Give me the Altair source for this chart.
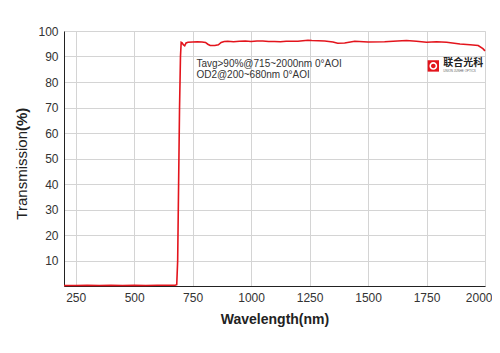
import altair as alt
import pandas as pd

# Transmission spectrum
wavelength = [200, 250, 300, 350, 400, 450, 500, 550, 600, 650, 675, 682, 686, 690, 694, 698, 701,
              705, 710, 716, 722, 730, 750, 770, 790, 805, 815, 825, 845, 860, 872, 885, 900,
              925, 950, 975, 1000, 1025, 1050, 1075, 1100, 1125, 1150, 1200, 1243, 1260, 1315,
              1350, 1370, 1400, 1443, 1500, 1571, 1607, 1664, 1707, 1750, 1793, 1836, 1893,
              1936, 1971, 1991, 2000]
transmission = [0.2, 0.2, 0.3, 0.2, 0.3, 0.2, 0.3, 0.2, 0.3, 0.3, 0.3, 0.5, 10, 40, 70, 90, 95.6,
                95.4, 94.6, 94.2, 95.3, 95.6, 95.7, 95.8, 95.7, 95.5, 94.8, 94.3, 94.3, 94.6, 95.5, 95.9, 96.0,
                95.8, 96.0, 96.1, 95.9, 96.1, 96.1, 95.9, 95.9, 95.8, 96.0, 96.0, 96.4, 96.3, 96.1,
                95.7, 95.2, 95.3, 96.0, 95.7, 95.8, 96.0, 96.3, 96.0, 95.6, 95.8, 95.6, 94.9,
                94.6, 94.3, 93.1, 92.2]

x_ticks = [250, 500, 750, 1000, 1250, 1500, 1750, 2000]
y_ticks = [10, 20, 30, 40, 50, 60, 70, 80, 90, 100]

note_lines = ["Tavg>90%@715~2000nm 0°AOI", "OD2@200~680nm 0°AOI"]
note_x = [766, 766]
note_y = [86.9, 82.7]

logo_name = "联合光科"
logo_sub = "UNION JUNHE OPTICS"

spec_df = pd.DataFrame({"wl": wavelength, "T": transmission})
note_df = pd.DataFrame({"wl": note_x, "T": note_y, "txt": note_lines})
icon_df = pd.DataFrame({"wl": [1779], "T": [86.3]})
logo_df = pd.DataFrame({"wl": [1822], "T": [87.3], "txt": [logo_name]})
sub_df = pd.DataFrame({"wl": [1822], "T": [84.6], "txt": [logo_sub]})

xs = alt.Scale(domain=[200, 2000], nice=False, zero=False)
ys = alt.Scale(domain=[0, 100], nice=False, zero=True)

x_axis = alt.Axis(values=x_ticks, format="d", grid=True, ticks=False, labelPadding=6,
                  titlePadding=9, labelFontSize=12, titleFontSize=14,
                  titleFontWeight="bold", labelFont="Liberation Sans",
                  titleFont="Liberation Sans", labelColor="#333", titleColor="#222",
                  domainColor="#222", gridColor="#d4d4d4", labelFlush=1,
                  labelFlushOffset=7, labelOverlap=False)
y_axis = alt.Axis(values=y_ticks, format="d", grid=True, ticks=False, labelPadding=6,
                  labelFontSize=12, labelFont="Liberation Sans", labelColor="#333",
                  domainColor="#222", gridColor="#d4d4d4", labelOverlap=False,
                  labelFlush=False)

X = alt.X("wl:Q", scale=xs, title="Wavelength(nm)", axis=x_axis)
Y = alt.Y("T:Q", scale=ys, title=None, axis=y_axis)

line = alt.Chart(spec_df).mark_line(color="#e3141c", strokeWidth=1.6).encode(x=X, y=Y)

notes = alt.Chart(note_df).mark_text(align="left", baseline="middle", fontSize=10,
                                     font="Liberation Sans", color="#333").encode(
    x=X, y=Y, text="txt:N")

icon = alt.Chart(icon_df).mark_point(shape="square", filled=True, color="#e3141c",
                                      size=130, opacity=1).encode(x=X, y=Y)
ring = alt.Chart(icon_df).mark_point(shape="circle", filled=False, color="white",
                                      size=38, strokeWidth=1.6, opacity=1).encode(x=X, y=Y)

logo = alt.Chart(logo_df).mark_text(align="left", baseline="middle", fontSize=10,
                                    font="Noto Sans CJK SC", fontWeight="bold",
                                    color="#222").encode(x=X, y=Y, text="txt:N")
sub = alt.Chart(sub_df).mark_text(align="left", baseline="middle", fontSize=3,
                                  font="Liberation Sans", color="#666").encode(
    x=X, y=Y, text="txt:N")

ytitle_a = alt.Chart(pd.DataFrame({"t": ["Transmission"]})).mark_text(
    angle=270, align="right", baseline="middle", fontSize=15, font="Liberation Sans",
    color="#222").encode(x=alt.value(-42), y=alt.value(100), text="t:N")
ytitle_b = alt.Chart(pd.DataFrame({"t": ["(%)"]})).mark_text(
    angle=270, align="left", baseline="middle", fontSize=15, font="Liberation Sans",
    fontWeight="bold", color="#222").encode(x=alt.value(-42), y=alt.value(100), text="t:N")

chart = alt.layer(line, notes, icon, ring, logo, sub, ytitle_a, ytitle_b).properties(
    width=421, height=255,
    autosize=alt.AutoSizeParams(type="none"),
    padding={"left": 56, "top": 23, "right": 7, "bottom": 59},
).configure_view(stroke="#222", strokeWidth=1).configure(background="white")

chart.save("out.html", embed_options={"renderer": "svg", "actions": False})
